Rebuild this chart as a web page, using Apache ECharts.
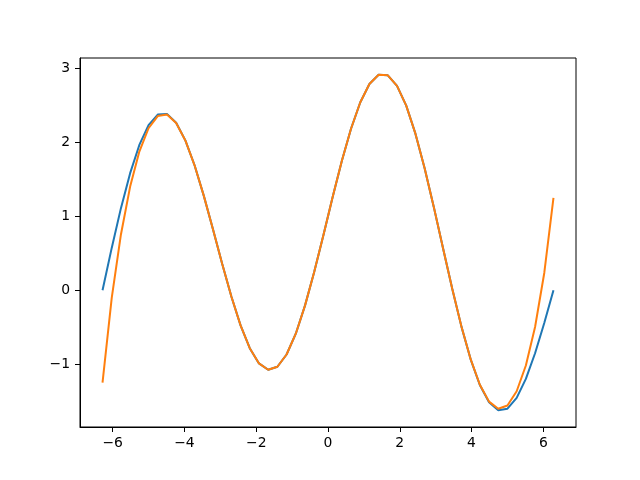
<!DOCTYPE html>
<html>
<head>
<meta charset="utf-8">
<title>curve</title>
<script src="https://cdn.jsdelivr.net/npm/echarts@6/dist/echarts.min.js"></script>
<style>
  html, body { margin: 0; padding: 0; background: #fff; }
  #lineChart { width: 640px; height: 480px; }
</style>
</head>
<body>
<div id="lineChart"></div>
<script>
// x positions of the points (50 samples from -2pi to 2pi)
const xs = [
  -6.2832, -6.0267, -5.7703, -5.5138, -5.2574, -5.0009, -4.7444, -4.4880, -4.2315, -3.9751,
  -3.7186, -3.4622, -3.2057, -2.9493, -2.6928, -2.4364, -2.1800, -1.9235, -1.6671, -1.4106,
  -1.1542, -0.8977, -0.6413, -0.3848, -0.1282, 0.1282, 0.3848, 0.6413, 0.8977, 1.1542,
  1.4106, 1.6671, 1.9235, 2.1800, 2.4364, 2.6928, 2.9493, 3.2057, 3.4622, 3.7186,
  3.9751, 4.2315, 4.4880, 4.7444, 5.0009, 5.2574, 5.5138, 5.7703, 6.0267, 6.2832
];
// blue curve
const blueY = [
  0.0000, 0.5715, 1.1093, 1.5826, 1.9639, 2.2325, 2.3743, 2.3837, 2.2639, 2.0261,
  1.6891, 1.2784, 0.8239, 0.3578, -0.0860, -0.4762, -0.7853, -0.9904, -1.0764, -1.0359,
  -0.8701, -0.5887, -0.2090, 0.2448, 0.7437, 1.2553, 1.7460, 2.1834, 2.5385, 2.7875,
  2.9129, 2.9052, 2.7636, 2.4955, 2.1166, 1.6496, 1.1226, 0.5675, 0.0180, -0.4929,
  -0.9351, -1.2825, -1.5159, -1.6237, -1.6023, -1.4565, -1.2002, -0.8535, -0.4433, 0.0000
];
// orange curve (splits off at both ends)
const orangeY = [
  -1.2495, -0.1045, 0.7536, 1.4009, 1.8741, 2.1897, 2.3547, 2.3751, 2.2603, 2.0247,
  1.6886, 1.2784, 0.8239, 0.3578, -0.0860, -0.4762, -0.7853, -0.9904, -1.0764, -1.0359,
  -0.8701, -0.5887, -0.2090, 0.2448, 0.7437, 1.2553, 1.7460, 2.1834, 2.5385, 2.7875,
  2.9129, 2.9052, 2.7636, 2.4955, 2.1166, 1.6496, 1.1226, 0.5675, 0.0180, -0.4924,
  -0.9337, -1.2789, -1.5073, -1.6041, -1.5595, -1.3667, -1.0185, -0.4978, 0.2327, 1.2495
];
const xTicks = [-6, -4, -2, 0, 2, 4, 6];
const yTicks = [-1, 0, 1, 2, 3];

const chart = echarts.init(document.getElementById("lineChart"));

function minus(v) {
  return String(v).replace("-", "\u2212");
}

const axisText = {
  color: "#000",
  fontFamily: "DejaVu Sans",
  fontSize: 13.9
};

const option = {
  animation: false,
  grid: {
    left: 80,
    right: 64,
    top: 58,
    bottom: 53,
    show: true,
    borderColor: "#000",
    borderWidth: 1,
    backgroundColor: "transparent"
  },
  xAxis: {
    type: "value",
    min: -6.911,
    max: 6.911,
    // keep the axis on the frame edge, not at y = 0
    axisLine: { show: true, onZero: false, lineStyle: { color: "#000", width: 1 } },
    splitLine: { show: false },
    axisTick: {
      show: true,
      length: 5,
      customValues: xTicks,
      lineStyle: { color: "#000", width: 1 }
    },
    axisLabel: Object.assign({
      margin: 9,
      customValues: xTicks,
      formatter: minus
    }, axisText)
  },
  yAxis: {
    type: "value",
    min: -1.8505,
    max: 3.1397,
    axisLine: { show: true, onZero: false, lineStyle: { color: "#000", width: 1 } },
    splitLine: { show: false },
    axisTick: {
      show: true,
      length: 5,
      customValues: yTicks,
      lineStyle: { color: "#000", width: 1 }
    },
    axisLabel: Object.assign({
      margin: 10,
      customValues: yTicks,
      formatter: minus
    }, axisText)
  },
  series: [
    {
      type: "line",
      data: xs.map((x, i) => [x, blueY[i]]),
      showSymbol: false,
      symbol: "none",
      lineStyle: { color: "#1f77b4", width: 2 }
    },
    {
      type: "line",
      data: xs.map((x, i) => [x, orangeY[i]]),
      showSymbol: false,
      symbol: "none",
      lineStyle: { color: "#ff7f0e", width: 2 }
    }
  ]
};

chart.setOption(option);
</script>
</body>
</html>
